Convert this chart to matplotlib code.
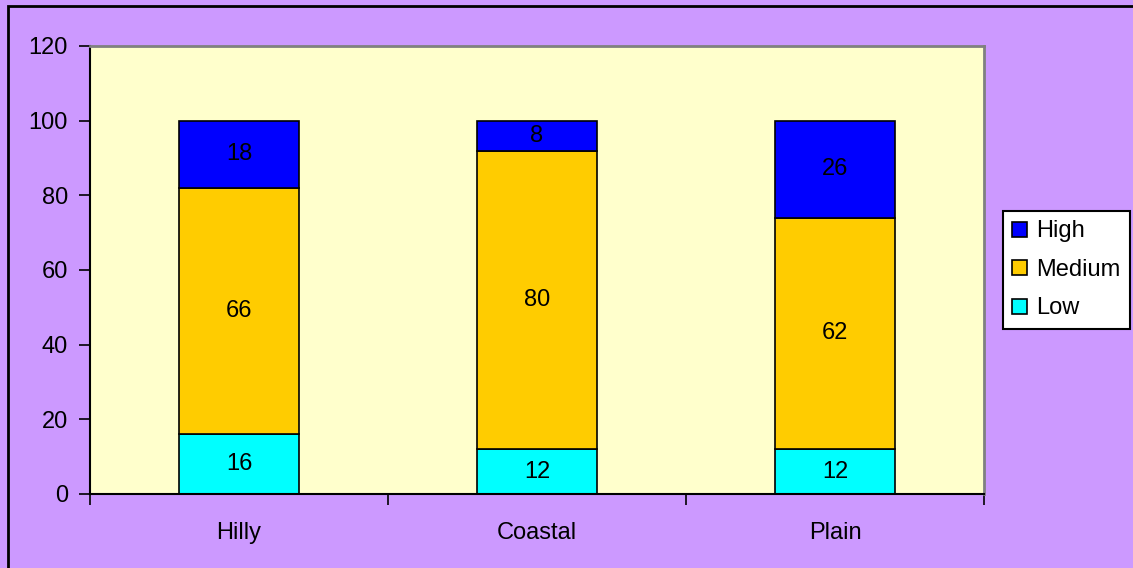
import matplotlib.pyplot as plt
import numpy as np
from matplotlib.patches import Rectangle

plt.rcParams['font.family'] = ['Liberation Sans', 'DejaVu Sans']

# 地形类别与三个等级的百分比
regions = ['Hilly', 'Coastal', 'Plain']
low = [16, 12, 12]
medium = [66, 80, 62]
high = [18, 8, 26]

fs = 17
fig = plt.figure(figsize=(11.33, 5.68), dpi=100)
fig.patch.set_facecolor('#CC99FF')
# 外框（只露出左边和上边）
fig.patches.append(Rectangle((8 / 1133, -0.05), 1.2, 1 - 6 / 568 + 0.05,
                             transform=fig.transFigure, fill=False,
                             edgecolor='black', linewidth=2))

ax = fig.add_axes([90 / 1133, 1 - 494 / 568, 894 / 1133, 448 / 568])
ax.set_facecolor('#FFFFCC')

x = np.arange(len(regions))
w = 0.4
series = [('Low', low, '#00FFFF'), ('Medium', medium, '#FFCC00'), ('High', high, '#0000FF')]
bottom = np.zeros(len(regions))
for name, vals, col in series:
    ax.bar(x, vals, w, bottom=bottom, color=col, edgecolor='black', linewidth=1.2, label=name)
    for xi, b, v in zip(x, bottom, vals):
        ax.text(xi, b + v / 2, str(v), ha='center', va='center', fontsize=fs)
    bottom += vals

ax.set_xlim(-0.5, 2.5)
ax.set_ylim(0, 120)
ax.set_yticks(range(0, 121, 20))
ax.tick_params(axis='y', labelsize=fs, length=8, width=1.2, direction='out', pad=8)
# 类别边界处的刻度线
ax.set_xticks([-0.5, 0.5, 1.5, 2.5])
ax.set_xticklabels([])
ax.set_xticks(x, minor=True)
ax.set_xticklabels(regions, minor=True, fontsize=fs)
ax.tick_params(axis='x', which='major', length=8, width=1.2, direction='out')
ax.tick_params(axis='x', which='minor', length=0, pad=20)

for s in ['left', 'bottom']:
    ax.spines[s].set_color('black')
    ax.spines[s].set_linewidth(1.5)
for s in ['top', 'right']:
    ax.spines[s].set_color('#808080')
    ax.spines[s].set_linewidth(2)

h, l = ax.get_legend_handles_labels()
leg = fig.legend(h[::-1], l[::-1], loc='upper left',
                 bbox_to_anchor=(1003 / 1133, 1 - 211 / 568),
                 fontsize=fs, frameon=True, fancybox=False, framealpha=1,
                 handlelength=0.6, handleheight=0.6, handletextpad=0.4,
                 labelspacing=0.7, borderpad=0.4, borderaxespad=0)
leg.get_frame().set_facecolor('white')
leg.get_frame().set_edgecolor('black')
leg.get_frame().set_linewidth(1.5)

fig.savefig('out.png', dpi=100, facecolor=fig.get_facecolor())
